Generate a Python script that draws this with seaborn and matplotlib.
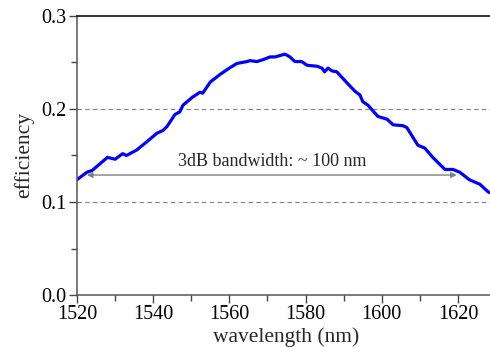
import matplotlib
matplotlib.use("Agg")
import matplotlib.pyplot as plt
import numpy as np
import pandas as pd
import seaborn as sns
from matplotlib.ticker import MultipleLocator

wavelength = [1520.0, 1522.6, 1524.0, 1528.0, 1530.0, 1532.0, 1533.0, 1535.7, 1538.4,
              1541.0, 1542.6, 1543.6, 1545.7, 1547.0, 1547.8, 1550.4, 1552.3, 1553.0,
              1555.0, 1557.5, 1560.0, 1562.0, 1564.6, 1565.4, 1567.2, 1568.8, 1570.7,
              1572.0, 1574.6, 1575.9, 1577.2, 1579.0, 1580.4, 1583.0, 1584.3, 1585.0,
              1585.9, 1586.9, 1588.2, 1590.9, 1593.0, 1594.3, 1595.0, 1596.4, 1599.0,
              1601.4, 1603.0, 1605.6, 1606.6, 1609.5, 1611.3, 1613.4, 1616.6, 1618.7,
              1620.5, 1623.0, 1625.8, 1627.9, 1628.4]
efficiency = [0.124, 0.132, 0.134, 0.148, 0.146, 0.152, 0.150, 0.156, 0.165,
              0.174, 0.177, 0.181, 0.194, 0.197, 0.204, 0.213, 0.218, 0.217,
              0.229, 0.237, 0.244, 0.249, 0.251, 0.252, 0.251, 0.253, 0.256,
              0.256, 0.259, 0.256, 0.251, 0.251, 0.247, 0.246, 0.244, 0.240,
              0.244, 0.241, 0.240, 0.228, 0.219, 0.215, 0.208, 0.204, 0.192,
              0.189, 0.183, 0.182, 0.180, 0.161, 0.158, 0.148, 0.135, 0.135,
              0.132, 0.124, 0.119, 0.111, 0.110]

bw_start, bw_end, bw_level = 1522.6, 1619.7, 0.129
bw_label = "3dB bandwidth: ~ 100 nm"

df = pd.DataFrame({"wavelength": wavelength, "efficiency": efficiency})

sns.set_style("white")
plt.rcParams["font.family"] = ["Liberation Serif", "DejaVu Serif"]

fig = plt.figure(figsize=(4.9, 3.47), dpi=100)
ax = fig.add_axes([77 / 490, 52 / 347, 419 / 490, 279 / 347])

sns.lineplot(data=df, x="wavelength", y="efficiency", color="#0000ff",
             linewidth=2.3, ax=ax)

# dashed reference lines
for yv in [0.1, 0.2]:
    ax.axhline(yv, color="#808080", linestyle=(0, (4, 3)), linewidth=0.8, zorder=0)

# bandwidth arrow
ax.annotate("", xy=(bw_start, bw_level), xytext=(bw_end, bw_level),
            arrowprops=dict(arrowstyle="<|-|>", color="#808080", lw=1.0,
                            mutation_scale=8, shrinkA=0, shrinkB=0))
ax.text((bw_start + bw_end) / 2, bw_level + 0.005, bw_label, ha="center",
        va="bottom", fontsize=13)

ax.set_xlim(1520, 1630)
ax.set_ylim(0.0, 0.3)
ax.xaxis.set_major_locator(MultipleLocator(20))
ax.xaxis.set_minor_locator(MultipleLocator(10))
ax.yaxis.set_major_locator(MultipleLocator(0.1))
ax.yaxis.set_minor_locator(MultipleLocator(0.05))
ax.yaxis.set_major_formatter(matplotlib.ticker.FormatStrFormatter("%.1f"))

ax.tick_params(which="major", direction="out", length=6, width=1, colors="#444444",
               labelsize=14.5, labelcolor="black", bottom=True, left=True, pad=1.5)
ax.tick_params(which="minor", direction="out", length=4, width=1, colors="#444444",
               bottom=True, left=True)

for side in ["left", "bottom"]:
    ax.spines[side].set_color("#555555")
    ax.spines[side].set_linewidth(1.1)
ax.spines["top"].set_color("black")
ax.spines["top"].set_linewidth(1.1)
ax.spines["right"].set_visible(False)

ax.set_xlabel("wavelength (nm)", fontsize=15.5, labelpad=2)
ax.set_ylabel("efficiency", fontsize=15.5, labelpad=5)

fig.savefig("out.png", dpi=100)
